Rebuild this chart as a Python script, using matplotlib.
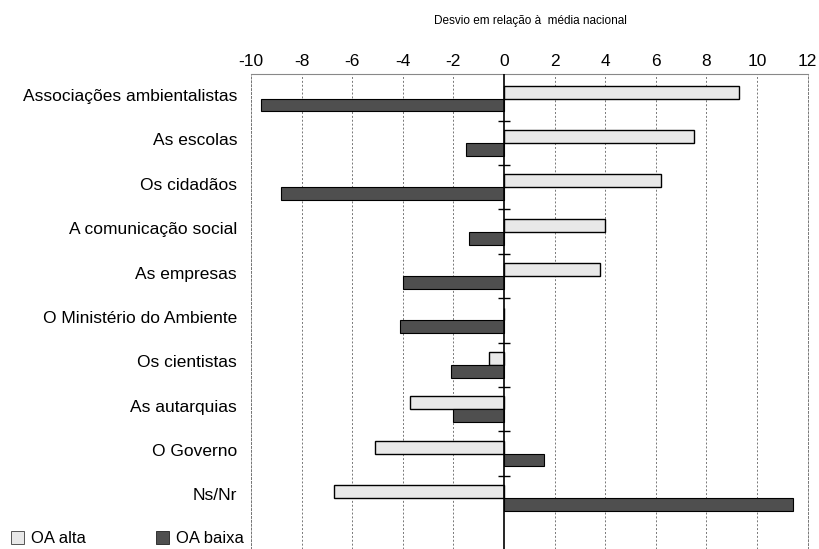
import numpy as np
from matplotlib import pyplot as plt
from matplotlib.patches import Patch

plt.rcParams['font.family'] = ['Liberation Sans', 'DejaVu Sans']

graph_title = "Desvio em relação à  média nacional"

categories = [
    "Associações ambientalistas",
    "As escolas",
    "Os cidadãos",
    "A comunicação social",
    "As empresas",
    "O Ministério do Ambiente",
    "Os cientistas",
    "As autarquias",
    "O Governo",
    "Ns/Nr",
]
oa_alta = [9.3, 7.5, 6.2, 4.0, 3.8, 0.0, -0.6, -3.7, -5.1, -6.7]
oa_baixa = [-9.6, -1.5, -8.8, -1.4, -4.0, -4.1, -2.1, -2.0, 1.6, 11.4]
xticks = [-10, -8, -6, -4, -2, 0, 2, 4, 6, 8, 10, 12]

color_alta = '#e8e8e8'
color_baixa = '#4f4f4f'
bar_h = 0.29

y = np.arange(len(categories))

fig = plt.figure(figsize=(8.2, 5.49), dpi=100)
ax = fig.add_axes([0.306, 0.0, 0.679, 0.865])

ax.barh(y - bar_h / 2, oa_alta, height=bar_h, color=color_alta,
        edgecolor='black', linewidth=1.0, zorder=3)
ax.barh(y + bar_h / 2, oa_baixa, height=bar_h, color=color_baixa,
        edgecolor='black', linewidth=0.8, zorder=3)

ax.set_xlim(-10, 12)
ax.set_ylim(10.15, -0.55)

# ticks on top
ax.xaxis.tick_top()
ax.set_xticks(xticks)
ax.set_xticklabels([str(t) for t in xticks], fontsize=12.5)
ax.tick_params(axis='x', length=0, pad=4)
ax.set_yticks(y - 0.08)
ax.set_yticklabels(categories, fontsize=12.5)
ax.tick_params(axis='y', length=0, pad=10)

# dashed vertical grid
for t in xticks:
    if t != 0:
        ax.axvline(t, color='#777777', linestyle=(0, (2, 2)), linewidth=0.7, zorder=1)
ax.axvline(0, color='black', linewidth=1.2, zorder=4)

# small ticks on the zero axis between categories
bounds = y[:-1] + 0.5
ax.plot(np.zeros(len(bounds)), bounds, marker='_', markersize=9,
        color='black', linestyle='none', zorder=4)

for side in ['left', 'right']:
    ax.spines[side].set_color('#777777')
    ax.spines[side].set_linestyle((0, (2, 2)))
    ax.spines[side].set_linewidth(0.7)
ax.spines['top'].set_color('#888888')
ax.spines['top'].set_linewidth(0.8)
ax.spines['bottom'].set_visible(False)

fig.text(0.647, 0.962, graph_title, fontsize=8.5, ha='center', va='center')

handles = [Patch(facecolor=color_alta, edgecolor='#555555', linewidth=0.7, label='OA alta'),
           Patch(facecolor=color_baixa, edgecolor='#333333', linewidth=0.7, label='OA baixa')]
fig.legend(handles=handles, loc='lower left', bbox_to_anchor=(-0.005, -0.022), ncol=2,
           frameon=False, fontsize=12, handlelength=0.8, handleheight=0.8,
           handletextpad=0.4, columnspacing=4.2)

fig.savefig('out.png', dpi=100)
